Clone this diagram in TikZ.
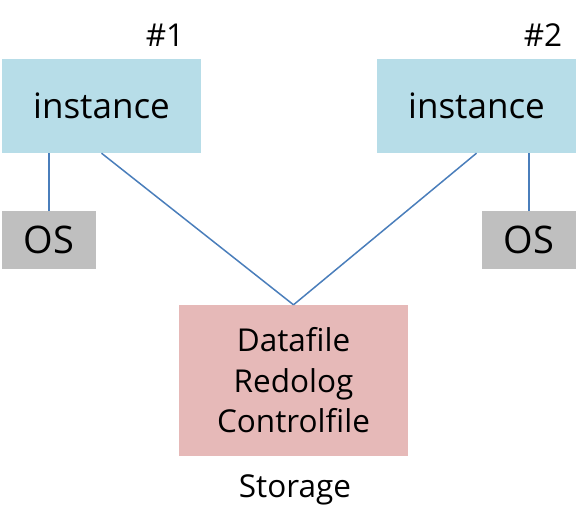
\documentclass[tikz,border=0pt]{standalone}
\usepackage{fontspec}
\setmainfont{Open Sans}
\usetikzlibrary{positioning,calc}
\definecolor{instfill}{HTML}{B7DDE8}
\definecolor{osfill}{HTML}{BFBFBF}
\definecolor{storfill}{HTML}{E6B9B8}
\definecolor{linkblue}{HTML}{4A7EBB}

\begin{document}
\begin{tikzpicture}[
  x=1pt, y=-1pt,
  inst/.style={fill=instfill, minimum width=199pt, minimum height=94pt, inner sep=0pt, font=\fontsize{35}{40}\selectfont},
  osbox/.style={fill=osfill, minimum width=94pt, minimum height=58pt, inner sep=0pt, font=\fontsize{38}{44}\selectfont},
  stor/.style={fill=storfill, minimum width=229pt, minimum height=151pt, inner sep=0pt, align=center, font=\fontsize{31.5}{40.5}\selectfont},
  tag/.style={font=\fontsize{31.5}{36}\selectfont},
  link/.style={draw=linkblue, line width=1.5pt}
]
\useasboundingbox (0,0) rectangle (582,514);
% instances and their OS
\node[inst] (inst1) at (101.5,106) {instance};
\node[inst] (inst2) at (476.5,106) {instance};
\node[osbox] (os1) at (49,240) {OS};
\node[osbox] (os2) at (529,240) {OS};
\node[tag] (n1) at (165,35) {\#1};
\node[tag] (n2) at (543,35) {\#2};
% shared storage
\node[stor] (store) at (293.5,380.5) {Datafile\\Redolog\\Controlfile};
\node[tag] (slabel) at (295,490) {Storage};

\draw[link] (os1.north |- inst1.south) -- (os1.north);
\draw[link] (os2.north |- inst2.south) -- (os2.north);
\draw[link] (inst1.south) -- (store.north);
\draw[link] (inst2.south) -- (store.north);
\end{tikzpicture}
\end{document}
